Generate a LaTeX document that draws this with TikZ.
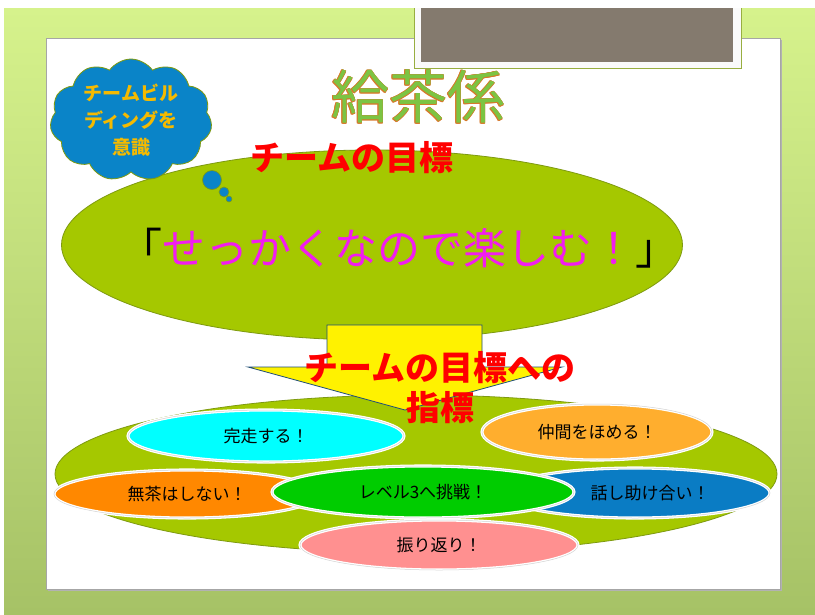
\documentclass[tikz,border=0pt]{standalone}
\usepackage{fontspec}
\setmainfont{Noto Sans CJK JP}
\usetikzlibrary{shapes.geometric,shapes.symbols}
\definecolor{bgtop}{HTML}{D6F28C}
\definecolor{bgbot}{HTML}{A6C266}
\definecolor{leaf}{HTML}{A5C800}
\definecolor{leafdark}{HTML}{7E9A10}
\definecolor{grayin}{HTML}{847A6E}
\definecolor{cloudblue}{HTML}{0A84C8}
\definecolor{cloudtxt}{HTML}{F5BA00}
\definecolor{arrowedge}{HTML}{1F4E79}
\definecolor{ecyan}{HTML}{00FFFF}
\definecolor{eorange}{HTML}{FFAE2E}
\definecolor{eorange2}{HTML}{FF8800}
\definecolor{eblue}{HTML}{0A7CC4}
\definecolor{egreen}{HTML}{00CC00}
\definecolor{epink}{HTML}{FF9090}
\definecolor{titlegreen}{HTML}{7CC443}
\definecolor{titleedge}{HTML}{D8782A}
\definecolor{magentat}{HTML}{F21CF0}
\tikzset{
  bigell/.style={ellipse, draw=leafdark, line width=0.8pt, fill=leaf, inner sep=0pt},
  goal/.style={ellipse, draw=white, double=gray!35, double distance=0.5pt, line width=1.3pt, inner sep=0pt, font=\fontsize{17}{20}\selectfont},
  redtxt/.style={text=red, font=\bfseries\fontsize{34}{38}\selectfont, align=center},
  bubble/.style={circle, draw=leafdark, line width=0.6pt, fill=cloudblue, inner sep=0pt},
}
\newcommand{\titletext}{給茶係}
\begin{document}
\begin{tikzpicture}[x=1pt,y=-1pt]
\useasboundingbox (0,0) rectangle (815,614);
\fill[white] (0,0) rectangle (815,614);
\shade[top color=bgtop, bottom color=bgbot] (4,8) rectangle (815,614);
% panel
\fill[gray!60] (48,40) rectangle (782,591);
\node (panel) [draw=gray!70, line width=0.5pt, fill=white, minimum width=734pt, minimum height=551pt, inner sep=0pt, anchor=north west] at (46,38) {};
% gray box
\fill[white!96!gray] (414,8) rectangle (741,68);
\draw[leafdark!80, line width=1pt] (414,8) coordinate (gl) -- (414,68) -- (741,68) -- (741,8) coordinate (gr);
\node (gbox) [fill=grayin, minimum width=312pt, minimum height=54pt, inner sep=0pt, anchor=north west] at (421,8) {};
% title
\foreach \dx/\dy in {0.8/0,-0.8/0,0/0.8,0/-0.8,0.6/0.6,-0.6/0.6,0.6/-0.6,-0.6/-0.6}
  \node[text=titleedge, font=\fontsize{58}{60}\selectfont] at (418+\dx,97+\dy) {\titletext};
\node (title) [text=titlegreen, font=\fontsize{58}{60}\selectfont] at (418,97) {\titletext};
% big ellipse 1
\node (goalell) [bigell, minimum width=621pt, minimum height=190pt] at (372,245) {};
% cloud
\node (cloud) [cloud, cloud puffs=11, cloud puff arc=110, aspect=1.3, draw=leafdark, line width=0.8pt, fill=cloudblue, minimum width=162pt, minimum height=122pt, inner sep=0pt, text=cloudtxt, align=center, font=\bfseries\fontsize{19}{27}\selectfont] at (131,120) {チームビル\\ディングを\\意識};
\node (b1) [bubble, minimum size=19pt] at (212,180) {};
\node (b2) [bubble, minimum size=10pt] at (224,192) {};
\node (b3) [bubble, minimum size=6pt, line width=0.5pt] at (229,199) {};
% red label
\node (goallbl) [redtxt] at (352,158) {チームの目標};
% main text
\node (main) [font=\fontsize{43}{46}\selectfont] at (399,248) {「\textcolor{magentat}{せっかくなので楽しむ！}」};
% lower ellipse
\node (lowell) [bigell, minimum width=722pt, minimum height=158pt] at (416,474) {};
% arrow
\draw[fill=yellow, draw=arrowedge, line width=0.8pt] (327,325) coordinate (a1) -- (482,325) -- (482,367) -- (562,367) -- (405,410) coordinate (tip) -- (248,367) -- (327,367) -- cycle;
% small ellipses
\node (e1) [goal, fill=ecyan, minimum width=276pt, minimum height=52pt] at (266,436) {完走する！};
\node (e2) [goal, fill=eorange, minimum width=230pt, minimum height=56pt] at (597,432) {仲間をほめる！};
\node (e3) [goal, fill=eorange2, minimum width=266pt, minimum height=48pt] at (187,494) {無茶はしない！};
\node (e4) [goal, fill=eblue, minimum width=270pt, minimum height=50pt] at (635,493) {\hspace*{30pt}話し助け合い！};
\node (e5) [goal, fill=egreen, minimum width=302pt, minimum height=52pt] at (423,492) {レベル3へ挑戦！};
\node (e6) [goal, fill=epink, minimum width=278pt, minimum height=50pt] at (439,545) {振り返り！};
% arrow label
\node (idxlbl) [redtxt, font=\bfseries\fontsize{34}{40}\selectfont] at (440,388) {チームの目標への\\指標};
\end{tikzpicture}
\end{document}
